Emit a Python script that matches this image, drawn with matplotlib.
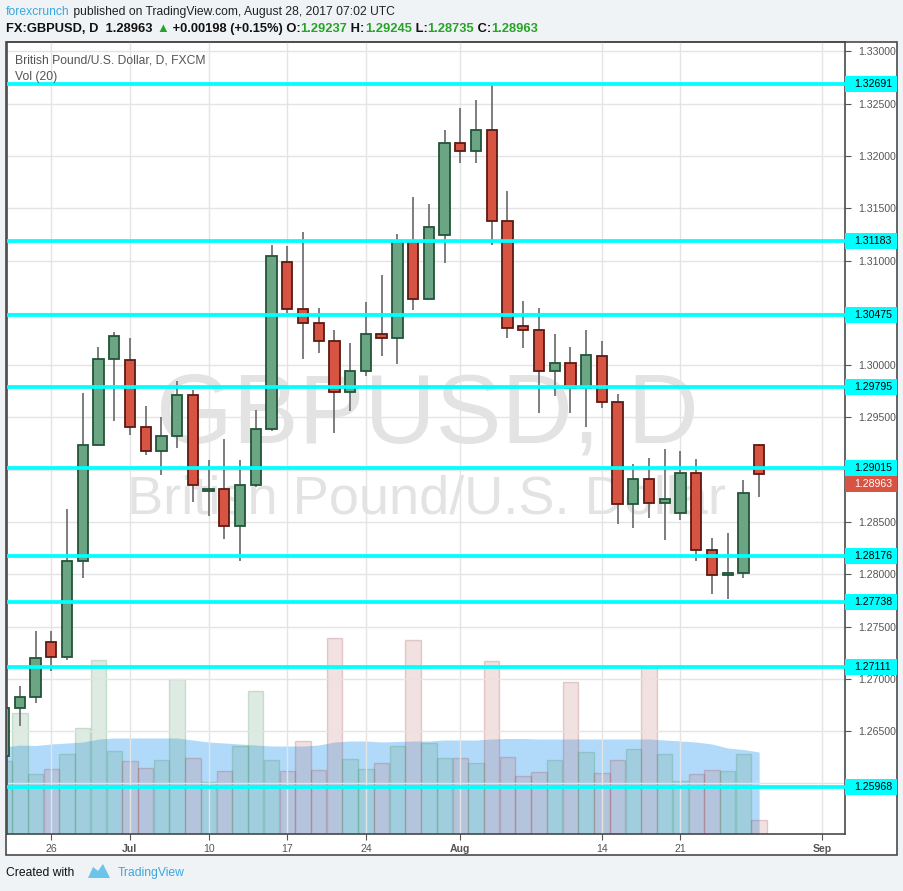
import matplotlib
matplotlib.use("Agg")
import matplotlib.pyplot as plt
import matplotlib.transforms as mtransforms
from matplotlib import font_manager
from matplotlib.patches import Rectangle, Polygon
from matplotlib.ticker import MultipleLocator, FuncFormatter
import numpy as np
import pandas as pd

W, H = 904, 891

# GBPUSD daily bars (FXCM), Jun 21 - Aug 28 2017
days = pd.bdate_range("2017-06-21", "2017-08-28")
opens = [1.2626, 1.2672, 1.2683, 1.2735, 1.2721, 1.2813, 1.2924, 1.3006, 1.3005, 1.2941,
         1.2918, 1.2932, 1.2971, 1.2880, 1.2882, 1.2846, 1.2885, 1.2939, 1.3099, 1.3054,
         1.3040, 1.3023, 1.2974, 1.2994, 1.3030, 1.3026, 1.3119, 1.3063, 1.3124, 1.3212,
         1.3205, 1.3225, 1.3138, 1.3037, 1.3034, 1.2994, 1.3002, 1.2978, 1.3009, 1.2965,
         1.2867, 1.2891, 1.2868, 1.2859, 1.2897, 1.2823, 1.2799, 1.2801, 1.29237]
highs = [1.2675, 1.2693, 1.2746, 1.2746, 1.2862, 1.2973, 1.3017, 1.3032, 1.3026, 1.2961,
         1.2950, 1.2985, 1.2976, 1.2909, 1.2929, 1.2909, 1.2957, 1.3115, 1.3114, 1.3127,
         1.3055, 1.3034, 1.3021, 1.3060, 1.3086, 1.3125, 1.3161, 1.3154, 1.3225, 1.3246,
         1.3253, 1.3269, 1.3166, 1.3061, 1.3055, 1.3030, 1.3017, 1.3034, 1.3023, 1.2972,
         1.2905, 1.2911, 1.2920, 1.2918, 1.2910, 1.2835, 1.2839, 1.2890, 1.29245]
lows = [1.2620, 1.2655, 1.2677, 1.2708, 1.2718, 1.2796, 1.2924, 1.2947, 1.2933, 1.2914,
        1.2895, 1.2921, 1.2869, 1.2856, 1.2834, 1.2813, 1.2883, 1.2937, 1.3050, 1.3006,
        1.3012, 1.2935, 1.2956, 1.2990, 1.3009, 1.3001, 1.3053, 1.3063, 1.3098, 1.3193,
        1.3193, 1.3115, 1.3026, 1.3016, 1.2954, 1.2970, 1.2954, 1.2941, 1.2959, 1.2848,
        1.2844, 1.2854, 1.2833, 1.2852, 1.2813, 1.2781, 1.2776, 1.2796, 1.28735]
closes = [1.2672, 1.2683, 1.2720, 1.2721, 1.2813, 1.2924, 1.3006, 1.3028, 1.2941, 1.2918,
          1.2932, 1.2971, 1.2885, 1.2882, 1.2846, 1.2885, 1.2939, 1.3104, 1.3054, 1.3040,
          1.3023, 1.2974, 1.2994, 1.3030, 1.3026, 1.3119, 1.3063, 1.3132, 1.3212, 1.3205,
          1.3225, 1.3138, 1.3035, 1.3034, 1.2994, 1.3002, 1.2978, 1.3010, 1.2965, 1.2867,
          1.2891, 1.2868, 1.2872, 1.2897, 1.2823, 1.2799, 1.2801, 1.2878, 1.28963]
# volume (arbitrary units) and its 20-day average, as drawn in the lower pane
volumes = [73, 121, 60, 65, 80, 106, 174, 83, 73, 66,
           74, 155, 76, 52, 63, 88, 143, 74, 63, 93,
           64, 196, 75, 65, 71, 88, 194, 91, 76, 76,
           71, 173, 77, 58, 62, 74, 152, 82, 61, 74,
           85, 166, 80, 53, 60, 64, 63, 80, 14]
vol_ma = [87, 89, 88.5, 90, 91, 92, 95, 96, 96, 96,
          96, 96, 94, 92, 91, 90, 89, 88, 88, 88,
          89, 92, 93, 93, 92, 92.5, 93, 93, 94, 94,
          94, 95, 95.5, 95.5, 95, 95, 95, 95, 95, 95,
          95, 95, 94, 93, 92, 90, 86, 84.5, 82]
levels = [1.32691, 1.31183, 1.30475, 1.29795, 1.29015, 1.28176, 1.27738, 1.27111, 1.25968]
tick_dates = ["2017-06-26", "2017-07-03", "2017-07-10", "2017-07-17", "2017-07-24",
              "2017-08-01", "2017-08-14", "2017-08-21", "2017-09-01"]
tick_labels = ["26", "Jul", "10", "17", "24", "Aug", "14", "21", "Sep"]

names = {f.name for f in font_manager.fontManager.ttflist}
narrow = "Liberation Sans Narrow" if "Liberation Sans Narrow" in names else None
plt.rcParams['font.family'] = ['Liberation Sans', 'DejaVu Sans']

UP, UP_EDGE = '#6ba583', '#225437'
DN, DN_EDGE = '#d75442', '#5b1a13'
AXC = '#555555'

fig = plt.figure(figsize=(W / 100, H / 100), dpi=100, facecolor='#f0f3f6')

# outer chart frame (price pane + scales)
fig.patches.append(Rectangle((6 / W, 1 - 855 / H), 891 / W, 813 / H, transform=fig.transFigure,
                             fc='white', ec='#4a4a4a', lw=1.2, zorder=0))

left, right, top, bottom = 6.7, 845.5, 42, 834
rect = [left / W, 1 - bottom / H, (right - left) / W, (bottom - top) / H]
ax_vol = fig.add_axes(rect, zorder=1)
ax = fig.add_axes(rect, zorder=2)
ax.patch.set_visible(False)

xs = np.arange(len(days))
o, h, l, c = map(np.array, (opens, highs, lows, closes))
up = c >= o

# volume pane
ax_vol.fill_between(xs, 0, vol_ma, color='#2196f3', alpha=0.35, lw=0)
ax_vol.bar(xs, volumes, width=0.98,
           color=np.where(up, '#6ba583', '#c47a7a').tolist(), alpha=0.22,
           edgecolor=np.where(up, '#2f8a4a', '#a03030').tolist(), linewidth=1.0)
ax_vol.set_ylim(0, 792)
ax_vol.set_xlim(0.165, 53.49)
ax_vol.axis('off')

# candles
ax.vlines(xs, l, h, color='#737375', lw=1.3, zorder=3)
ax.bar(xs, np.abs(c - o), bottom=np.minimum(o, c), width=0.655,
       color=np.where(up, UP, DN).tolist(), edgecolor=np.where(up, UP_EDGE, DN_EDGE).tolist(),
       linewidth=1.3, zorder=4)

for lv in levels:
    ax.axhline(lv, color='#00ffff', lw=2.7, zorder=5)

ax.set_xlim(0.165, 53.49)
ax.set_ylim(1.25517, 1.33089)

all_days = pd.bdate_range("2017-06-21", "2017-09-01")
ax.set_xticks(all_days.get_indexer(pd.to_datetime(tick_dates)))
ax.set_xticklabels(tick_labels)
for t in ax.get_xticklabels():
    if not t.get_text().isdigit():
        t.set_fontweight('bold')
        t.set_color('#444444')


def price_fmt(v, pos):
    # scale labels hidden behind a level / last-price tag are left out
    if min(abs(v - lv) for lv in levels + [closes[-1]]) < 0.0008:
        return ""
    return f"{v:.5f}"


ax.yaxis.set_major_locator(MultipleLocator(0.005))
ax.yaxis.set_major_formatter(FuncFormatter(price_fmt))
ax.yaxis.tick_right()
ax.tick_params(axis='y', length=4, color=AXC, labelsize=7.6, labelcolor=AXC, pad=5)
ax.tick_params(axis='x', length=4, color=AXC, labelsize=7.6, labelcolor=AXC, pad=3)
ax.grid(True, color='#e4e4e4', lw=1, zorder=0)
ax.set_axisbelow(True)
for sp in ax.spines.values():
    sp.set_color('#4a4a4a')
    sp.set_linewidth(1.2)

# watermark
ax.text(0.501, 0.4937, "GBPUSD, D", transform=ax.transAxes, ha='center', va='baseline',
        fontsize=71, color='#e3e3e3', zorder=1)
ax.text(0.501, 0.4053, "British Pound/U.S. Dollar", transform=ax.transAxes, ha='center',
        va='baseline', fontsize=39, color='#e3e3e3', zorder=1)

ax.text(0.0099, 0.977, "British Pound/U.S. Dollar, D, FXCM", transform=ax.transAxes,
        ha='left', va='center', fontsize=8.7, color='#555555', zorder=6)
ax.text(0.0099, 0.9555, "Vol (20)", transform=ax.transAxes,
        ha='left', va='center', fontsize=8.7, color='#555555', zorder=6)

# level tags on the price scale
trans = mtransforms.blended_transform_factory(ax.transAxes, ax.transData)
ppu = (bottom - top) / (1.33089 - 1.25517)   # pixels per price unit
tag_w = (897 - right) / (right - left)
tag_h = 16 / ppu


def tag(value, at, fc, tc):
    ax.add_patch(Rectangle((1.0, at - tag_h / 2), tag_w, tag_h, transform=trans,
                           fc=fc, ec='none', clip_on=False, zorder=7))
    ax.text(1.0 + 9 / (right - left), at, f"{value:.5f}", transform=trans, ha='left',
            va='center', fontsize=7.6, color=tc, zorder=8, clip_on=False)


for lv in levels:
    tag(lv, lv, '#00ffff', 'black')
# last price tag, pushed below a level tag it would collide with
last = closes[-1]
near = [lv for lv in levels if abs(lv - last) < tag_h]
tag(last, (min(near) - tag_h) if near else last, '#d75442', 'white')

# header
renderer = fig.canvas.get_renderer()


def draw_parts(x, y, parts, size, family, weight='normal'):
    for txt, col in parts:
        kw = dict(color=col, fontsize=size, va='center', ha='left', fontweight=weight)
        if family:
            kw['family'] = [family, 'DejaVu Sans']
        t = fig.text(x / W, 1 - y / H, txt, **kw)
        x += t.get_window_extent(renderer=renderer).width


hsize = 10 if narrow else 8.7
GREEN = '#27a327'
chg = 0.00198
draw_parts(6, 12, [("forexcrunch", '#3aa7dd'),
                   (" published on TradingView.com, August 28, 2017 07:02 UTC", '#222222')],
           hsize, narrow)
draw_parts(6, 29, [("FX:GBPUSD, D  1.28963 ", '#111111'), ("\u25b2", GREEN),
                   (f" +{chg:.5f} (+0.15%) O:", '#111111'), (f"{opens[-1]:.5f}", GREEN),
                   (" H:", '#111111'), (f"{highs[-1]:.5f}", GREEN),
                   (" L:", '#111111'), (f"{lows[-1]:.5f}", GREEN),
                   (" C:", '#111111'), (f"{closes[-1]:.5f}", GREEN)],
           hsize + 0.6, narrow, weight='semibold')

# footer
draw_parts(6, 873, [("Created with", '#111111')], hsize, narrow)
logo = [(88, 878), (93, 867), (98, 871), (103, 864), (110, 878)]
fig.patches.append(Polygon([(x / W, 1 - y / H) for x, y in logo], closed=True,
                           transform=fig.transFigure, fc='#6bc4ea', ec='none'))
draw_parts(118, 873, [("TradingView", '#3aa7dd')], hsize, narrow)

fig.savefig("out.png", dpi=100, facecolor=fig.get_facecolor())
